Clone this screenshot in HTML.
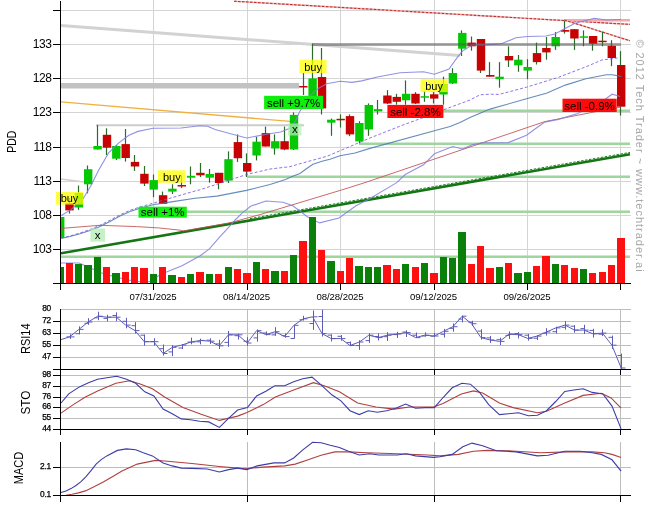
<!DOCTYPE html><html><head><meta charset="utf-8"><style>html,body{margin:0;padding:0;background:#fff;width:657px;height:514px;overflow:hidden}svg{display:block}text{font-family:"Liberation Sans",Arial,sans-serif}</style></head><body>
<svg width="657" height="514" viewBox="0 0 657 514">
<rect width="657" height="514" fill="#fff"/>
<defs><clipPath id="cp"><rect x="61" y="0" width="570" height="283"/></clipPath></defs>
<g stroke="#d4d4d4" stroke-width="1" shape-rendering="crispEdges"><line x1="61" y1="10.5" x2="631" y2="10.5"/><line x1="61" y1="44.5" x2="631" y2="44.5"/><line x1="61" y1="78.5" x2="631" y2="78.5"/><line x1="61" y1="112.5" x2="631" y2="112.5"/><line x1="61" y1="147.5" x2="631" y2="147.5"/><line x1="61" y1="181.5" x2="631" y2="181.5"/><line x1="61" y1="215.5" x2="631" y2="215.5"/><line x1="61" y1="249.5" x2="631" y2="249.5"/><line x1="153.5" y1="0" x2="153.5" y2="283"/><line x1="247.5" y1="0" x2="247.5" y2="283"/><line x1="340.5" y1="0" x2="340.5" y2="283"/><line x1="434.5" y1="0" x2="434.5" y2="283"/><line x1="527.5" y1="0" x2="527.5" y2="283"/><line x1="620.5" y1="0" x2="620.5" y2="283"/></g>
<g clip-path="url(#cp)">
<line x1="61" y1="25.6" x2="460" y2="55.5" stroke="#d2d2d2" stroke-width="3"/>
<line x1="61" y1="179.1" x2="84" y2="181.9" stroke="#d6cccc" stroke-width="1.5"/>
<rect x="61" y="83" width="238" height="5.5" fill="#c2c2c2"/>
<line x1="96" y1="125.3" x2="304" y2="125.3" stroke="#cccccc" stroke-width="2"/>
<line x1="61" y1="101.8" x2="293" y2="121.7" stroke="#f0b040" stroke-width="1.3"/>
<line x1="61.0" y1="256.8" x2="630" y2="256.8" stroke="#9ed69e" stroke-width="2.6"/>
<line x1="186.0" y1="211.8" x2="630" y2="211.8" stroke="#9ed69e" stroke-width="2.6"/>
<line x1="247.6" y1="176.8" x2="630" y2="176.8" stroke="#9ed69e" stroke-width="2.6"/>
<line x1="359.0" y1="143.7" x2="630" y2="143.7" stroke="#9ed69e" stroke-width="2.6"/>
<line x1="443.0" y1="110.8" x2="630" y2="110.8" stroke="#9ed69e" stroke-width="2.6"/>
<line x1="234" y1="1.2" x2="630" y2="24.4" stroke="#f2b8b8" stroke-width="1.6"/>
<line x1="234" y1="1.2" x2="630" y2="24.4" stroke="#c03030" stroke-width="1.1" stroke-dasharray="2.6,1.4"/>
<line x1="564" y1="20.2" x2="630" y2="20.2" stroke="#f4a8a8" stroke-width="2.5"/>
<line x1="564.4" y1="20" x2="630" y2="40.8" stroke="#f2b8b8" stroke-width="1.6"/>
<line x1="564.4" y1="20" x2="630" y2="40.8" stroke="#c03030" stroke-width="1.1" stroke-dasharray="2.6,1.4"/>
<line x1="61" y1="253.3" x2="630" y2="154.3" stroke="#137513" stroke-width="2.6"/>
<line x1="250" y1="218.6" x2="630" y2="152.4" stroke="#1f801f" stroke-width="1" stroke-dasharray="2.5,1.5"/>
</g>
<g clip-path="url(#cp)">
<g stroke="#2a6a2a" stroke-width="1.2"><line x1="59.5" y1="214.0" x2="59.5" y2="240.0"/><line x1="69.5" y1="198.0" x2="69.5" y2="213.6"/><line x1="78.5" y1="185.5" x2="78.5" y2="209.9"/><line x1="87.5" y1="165.5" x2="87.5" y2="193.3"/><line x1="97.5" y1="125.1" x2="97.5" y2="149.5"/><line x1="106.5" y1="128.3" x2="106.5" y2="155.0"/><line x1="116.5" y1="145.0" x2="116.5" y2="160.0"/><line x1="125.5" y1="129.0" x2="125.5" y2="161.6"/><line x1="134.5" y1="155.0" x2="134.5" y2="170.9"/><line x1="144.5" y1="166.0" x2="144.5" y2="186.0"/><line x1="153.5" y1="174.5" x2="153.5" y2="197.2"/><line x1="162.5" y1="191.6" x2="162.5" y2="204.0"/><line x1="172.5" y1="184.3" x2="172.5" y2="194.0"/><line x1="181.5" y1="175.8" x2="181.5" y2="188.0"/><line x1="190.5" y1="166.5" x2="190.5" y2="184.3"/><line x1="200.5" y1="163.0" x2="200.5" y2="177.0"/><line x1="209.5" y1="169.0" x2="209.5" y2="182.6"/><line x1="218.5" y1="172.8" x2="218.5" y2="189.2"/><line x1="228.5" y1="151.4" x2="228.5" y2="183.0"/><line x1="237.5" y1="134.4" x2="237.5" y2="161.9"/><line x1="246.5" y1="153.4" x2="246.5" y2="177.0"/><line x1="256.5" y1="136.8" x2="256.5" y2="160.4"/><line x1="265.5" y1="126.6" x2="265.5" y2="146.5"/><line x1="274.5" y1="134.4" x2="274.5" y2="154.6"/><line x1="284.5" y1="126.6" x2="284.5" y2="150.2"/><line x1="293.5" y1="112.4" x2="293.5" y2="150.0"/><line x1="303.5" y1="73.0" x2="303.5" y2="95.0"/><line x1="312.5" y1="43.8" x2="312.5" y2="105.0"/><line x1="321.5" y1="48.0" x2="321.5" y2="114.5"/><line x1="331.5" y1="118.5" x2="331.5" y2="135.8"/><line x1="340.5" y1="114.4" x2="340.5" y2="127.5"/><line x1="349.5" y1="114.4" x2="349.5" y2="136.2"/><line x1="359.5" y1="121.2" x2="359.5" y2="143.3"/><line x1="368.5" y1="103.4" x2="368.5" y2="135.8"/><line x1="377.5" y1="99.9" x2="377.5" y2="114.5"/><line x1="387.5" y1="90.1" x2="387.5" y2="104.0"/><line x1="396.5" y1="93.8" x2="396.5" y2="104.7"/><line x1="405.5" y1="80.4" x2="405.5" y2="104.7"/><line x1="415.5" y1="92.1" x2="415.5" y2="104.0"/><line x1="424.5" y1="91.3" x2="424.5" y2="101.8"/><line x1="433.5" y1="92.0" x2="433.5" y2="103.5"/><line x1="443.5" y1="76.7" x2="443.5" y2="104.7"/><line x1="452.5" y1="68.2" x2="452.5" y2="84.0"/><line x1="461.5" y1="30.4" x2="461.5" y2="56.0"/><line x1="471.5" y1="36.5" x2="471.5" y2="50.7"/><line x1="480.5" y1="39.0" x2="480.5" y2="73.0"/><line x1="489.5" y1="62.1" x2="489.5" y2="76.7"/><line x1="499.5" y1="62.1" x2="499.5" y2="87.7"/><line x1="508.5" y1="46.3" x2="508.5" y2="67.0"/><line x1="518.5" y1="55.0" x2="518.5" y2="71.8"/><line x1="527.5" y1="59.2" x2="527.5" y2="79.2"/><line x1="536.5" y1="42.6" x2="536.5" y2="64.5"/><line x1="546.5" y1="37.0" x2="546.5" y2="59.7"/><line x1="555.5" y1="32.1" x2="555.5" y2="49.9"/><line x1="564.5" y1="20.7" x2="564.5" y2="33.6"/><line x1="574.5" y1="29.0" x2="574.5" y2="49.9"/><line x1="583.5" y1="30.4" x2="583.5" y2="46.3"/><line x1="592.5" y1="36.0" x2="592.5" y2="50.7"/><line x1="602.5" y1="31.7" x2="602.5" y2="46.3"/><line x1="611.5" y1="40.2" x2="611.5" y2="66.2"/><line x1="620.5" y1="51.1" x2="620.5" y2="115.6"/></g>
<g><rect x="56.0" y="217.0" width="8.4" height="21.0" fill="#05c805"/><rect x="65.3" y="203.2" width="8.4" height="7.2" fill="#c80202"/><rect x="74.7" y="193.0" width="8.4" height="14.5" fill="#05c805"/><rect x="84.0" y="169.2" width="8.4" height="15.1" fill="#05c805"/><rect x="93.4" y="146.0" width="8.4" height="3.5" fill="#05c805"/><rect x="102.8" y="134.8" width="8.4" height="12.9" fill="#c80202"/><rect x="112.1" y="146.0" width="8.4" height="12.7" fill="#05c805"/><rect x="121.5" y="144.1" width="8.4" height="13.9" fill="#c80202"/><rect x="130.8" y="161.9" width="8.4" height="4.6" fill="#c80202"/><rect x="140.2" y="173.8" width="8.4" height="9.8" fill="#c80202"/><rect x="149.5" y="180.1" width="8.4" height="9.5" fill="#05c805"/><rect x="158.9" y="195.2" width="8.4" height="8.6" fill="#c80202"/><rect x="168.2" y="188.7" width="8.4" height="2.9" fill="#05c805"/><rect x="177.6" y="185.0" width="8.4" height="1.5" fill="#c80202"/><rect x="186.9" y="175.8" width="8.4" height="1.9" fill="#05c805"/><rect x="196.2" y="172.8" width="8.4" height="2.5" fill="#c80202"/><rect x="205.6" y="174.0" width="8.4" height="3.7" fill="#05c805"/><rect x="214.9" y="172.8" width="8.4" height="10.2" fill="#c80202"/><rect x="224.3" y="159.2" width="8.4" height="21.4" fill="#05c805"/><rect x="233.7" y="142.1" width="8.4" height="16.1" fill="#c80202"/><rect x="243.0" y="163.0" width="8.4" height="8.6" fill="#c80202"/><rect x="252.4" y="141.7" width="8.4" height="13.8" fill="#05c805"/><rect x="261.7" y="133.1" width="8.4" height="13.4" fill="#c80202"/><rect x="271.1" y="141.2" width="8.4" height="7.3" fill="#05c805"/><rect x="280.4" y="141.2" width="8.4" height="8.3" fill="#c80202"/><rect x="289.8" y="114.9" width="8.4" height="34.6" fill="#05c805"/><rect x="299.1" y="86.0" width="8.4" height="1.5" fill="#c80202"/><rect x="308.4" y="78.4" width="8.4" height="21.6" fill="#05c805"/><rect x="317.8" y="77.0" width="8.4" height="31.4" fill="#c80202"/><rect x="327.1" y="119.7" width="8.4" height="3.0" fill="#05c805"/><rect x="336.5" y="118.8" width="8.4" height="1.5" fill="#c80202"/><rect x="345.8" y="116.1" width="8.4" height="18.3" fill="#c80202"/><rect x="355.2" y="123.0" width="8.4" height="18.4" fill="#05c805"/><rect x="364.6" y="105.0" width="8.4" height="24.5" fill="#05c805"/><rect x="373.9" y="109.1" width="8.4" height="2.4" fill="#05c805"/><rect x="383.2" y="95.5" width="8.4" height="8.0" fill="#c80202"/><rect x="392.6" y="96.9" width="8.4" height="4.9" fill="#c80202"/><rect x="401.9" y="93.8" width="8.4" height="6.5" fill="#05c805"/><rect x="411.3" y="93.8" width="8.4" height="9.7" fill="#c80202"/><rect x="420.6" y="96.2" width="8.4" height="1.5" fill="#05c805"/><rect x="430.0" y="94.3" width="8.4" height="4.3" fill="#c80202"/><rect x="439.3" y="84.0" width="8.4" height="10.5" fill="#05c805"/><rect x="448.7" y="73.0" width="8.4" height="10.5" fill="#05c805"/><rect x="458.1" y="32.9" width="8.4" height="15.8" fill="#05c805"/><rect x="467.4" y="42.6" width="8.4" height="3.7" fill="#c80202"/><rect x="476.8" y="39.0" width="8.4" height="31.6" fill="#c80202"/><rect x="486.1" y="75.0" width="8.4" height="1.7" fill="#c80202"/><rect x="495.4" y="76.7" width="8.4" height="2.5" fill="#05c805"/><rect x="504.8" y="56.0" width="8.4" height="4.4" fill="#c80202"/><rect x="514.1" y="59.7" width="8.4" height="5.6" fill="#05c805"/><rect x="523.5" y="67.0" width="8.4" height="3.6" fill="#05c805"/><rect x="532.8" y="53.1" width="8.4" height="9.0" fill="#c80202"/><rect x="542.2" y="48.0" width="8.4" height="4.4" fill="#c80202"/><rect x="551.5" y="37.0" width="8.4" height="9.3" fill="#05c805"/><rect x="560.9" y="30.0" width="8.4" height="1.7" fill="#c80202"/><rect x="570.2" y="29.2" width="8.4" height="9.3" fill="#c80202"/><rect x="579.6" y="36.3" width="8.4" height="1.5" fill="#05c805"/><rect x="588.9" y="36.0" width="8.4" height="7.8" fill="#c80202"/><rect x="598.3" y="40.7" width="8.4" height="1.5" fill="#c80202"/><rect x="607.6" y="45.8" width="8.4" height="12.2" fill="#c80202"/><rect x="617.0" y="65.0" width="8.4" height="41.7" fill="#c80202"/></g>
</g>
<g clip-path="url(#cp)" fill="none" stroke-opacity="0.85"><polyline points="61.0,228.4 100.0,225.3 136.5,226.6 158.4,227.9 180.4,230.2 183.0,231.0 229.0,223.0 260.0,214.6 341.5,190.0 365.0,182.6 525.0,128.3 544.8,121.6 597.3,111.4 621.0,107.0" stroke="#c05050" stroke-width="1"/><polyline points="61.0,238.5 70.0,236.5 80.0,233.8 90.0,230.5 100.0,226.5 110.0,221.5 120.0,216.0 130.0,211.5 140.0,208.2 153.0,204.8 173.0,201.6 195.0,198.3 216.9,196.1 246.5,190.4 270.0,184.5 285.5,179.4 292.0,176.5 300.0,173.4 306.0,169.0 313.0,164.3 322.0,161.3 330.0,159.3 340.0,155.8 355.0,153.0 370.0,148.4 434.4,130.7 450.0,126.5 460.0,122.4 470.0,117.4 480.0,113.3 490.0,109.1 526.5,98.8 547.1,93.1 565.3,85.1 585.9,78.7 606.4,74.8 612.1,74.8 621.3,76.4" stroke="#4a78b0" stroke-width="1.1"/><polyline points="61.0,238.0 70.0,236.0 80.0,233.0 90.0,229.5 100.0,225.3 110.0,220.3 120.0,214.8 130.0,210.3 140.0,207.0 153.0,203.2 173.0,197.4 195.0,191.0 200.0,189.8 220.0,183.2 247.0,174.4 270.0,169.0 290.0,166.7 300.0,163.7 326.9,156.3 370.0,138.0 404.0,124.6 423.5,117.5 444.0,109.6 460.0,103.7 470.0,100.0 480.0,94.8 490.0,94.2 499.1,94.4 526.5,87.2 558.5,77.3 585.9,66.8 601.9,60.0 617.6,58.0" stroke="#7a5ae0" stroke-width="1" stroke-dasharray="3,2"/><polyline points="61.0,215.7 70.7,209.9 83.3,198.5 90.9,185.8 98.5,170.6 108.6,152.9 118.8,142.8 128.9,135.2 138.0,131.4 153.0,128.3 181.0,128.0 200.0,125.8 207.6,126.3 215.0,129.5 246.5,138.0 268.0,134.0 280.6,132.0 292.8,127.0 299.5,112.0 309.2,96.4 318.0,88.6 326.7,83.8 340.3,81.2 352.0,82.4 361.7,80.9 377.3,77.0 400.0,72.7 423.5,71.8 434.4,74.3 449.0,69.0 457.5,57.2 462.4,51.1 472.2,45.0 486.8,44.6 501.4,43.8 516.0,37.7 527.4,36.5 545.7,36.0 555.0,34.0 565.0,28.6 575.0,23.2 594.4,18.3 606.6,20.0 618.8,19.5 621.0,19.5" stroke="#7f7fe0" stroke-width="1.1"/><polyline points="61.0,263.0 79.0,263.0 104.0,274.0 128.0,280.0 145.0,282.6 152.0,281.0 157.6,276.3 165.2,272.5 182.0,265.7 200.2,255.8 209.4,248.9 220.0,236.7 229.1,226.8 235.2,220.0 242.3,212.9 251.0,206.1 266.0,201.0 283.0,202.2 292.8,205.8 307.4,216.8 319.6,222.9 339.0,218.0 356.0,205.8 370.0,198.5 396.7,182.6 405.2,174.5 423.5,164.8 434.4,153.8 452.7,146.5 462.4,149.0 472.2,144.8 481.9,142.9 508.3,142.6 526.5,135.3 535.7,128.5 544.8,122.1 558.5,119.4 576.8,113.7 592.7,106.8 604.2,100.0 612.1,94.2 620.1,96.5" stroke="#7f7fe0" stroke-width="1.1"/></g><line x1="312" y1="44.5" x2="621" y2="44.5" stroke="#555" stroke-opacity="0.5" stroke-width="3" clip-path="url(#cp)"/>
<g clip-path="url(#cp)" shape-rendering="crispEdges"><rect x="56.2" y="267.4" width="7.3" height="15.6" fill="#0a800a"/><rect x="65.5" y="263.0" width="7.3" height="20.0" fill="#ff1010"/><rect x="74.9" y="263.8" width="7.3" height="19.2" fill="#0a800a"/><rect x="84.2" y="265.0" width="7.3" height="18.0" fill="#0a800a"/><rect x="93.6" y="257.0" width="7.3" height="26.0" fill="#0a800a"/><rect x="103.0" y="267.2" width="7.3" height="15.8" fill="#ff1010"/><rect x="112.3" y="273.3" width="7.3" height="9.7" fill="#0a800a"/><rect x="121.7" y="272.0" width="7.3" height="11.0" fill="#ff1010"/><rect x="131.0" y="267.2" width="7.3" height="15.8" fill="#ff1010"/><rect x="140.3" y="268.0" width="7.3" height="15.0" fill="#ff1010"/><rect x="149.7" y="274.0" width="7.3" height="9.0" fill="#0a800a"/><rect x="159.1" y="267.2" width="7.3" height="15.8" fill="#ff1010"/><rect x="168.4" y="275.0" width="7.3" height="8.0" fill="#0a800a"/><rect x="177.8" y="277.0" width="7.3" height="6.0" fill="#ff1010"/><rect x="187.1" y="274.3" width="7.3" height="8.7" fill="#0a800a"/><rect x="196.4" y="272.0" width="7.3" height="11.0" fill="#ff1010"/><rect x="205.8" y="274.0" width="7.3" height="9.0" fill="#0a800a"/><rect x="215.1" y="274.0" width="7.3" height="9.0" fill="#ff1010"/><rect x="224.5" y="267.2" width="7.3" height="15.8" fill="#0a800a"/><rect x="233.9" y="269.2" width="7.3" height="13.8" fill="#ff1010"/><rect x="243.2" y="273.3" width="7.3" height="9.7" fill="#ff1010"/><rect x="252.6" y="262.1" width="7.3" height="20.9" fill="#0a800a"/><rect x="261.9" y="269.2" width="7.3" height="13.8" fill="#ff1010"/><rect x="271.2" y="271.1" width="7.3" height="11.9" fill="#0a800a"/><rect x="280.6" y="271.1" width="7.3" height="11.9" fill="#ff1010"/><rect x="289.9" y="255.0" width="7.3" height="28.0" fill="#0a800a"/><rect x="299.3" y="241.1" width="7.3" height="41.9" fill="#ff1010"/><rect x="308.6" y="216.8" width="7.3" height="66.2" fill="#0a800a"/><rect x="318.0" y="249.9" width="7.3" height="33.1" fill="#ff1010"/><rect x="327.3" y="261.1" width="7.3" height="21.9" fill="#0a800a"/><rect x="336.7" y="271.1" width="7.3" height="11.9" fill="#ff1010"/><rect x="346.0" y="258.2" width="7.3" height="24.8" fill="#ff1010"/><rect x="355.4" y="266.2" width="7.3" height="16.8" fill="#0a800a"/><rect x="364.8" y="267.2" width="7.3" height="15.8" fill="#0a800a"/><rect x="374.1" y="267.2" width="7.3" height="15.8" fill="#0a800a"/><rect x="383.4" y="265.0" width="7.3" height="18.0" fill="#ff1010"/><rect x="392.8" y="269.2" width="7.3" height="13.8" fill="#ff1010"/><rect x="402.1" y="264.0" width="7.3" height="19.0" fill="#0a800a"/><rect x="411.5" y="267.2" width="7.3" height="15.8" fill="#ff1010"/><rect x="420.8" y="263.0" width="7.3" height="20.0" fill="#0a800a"/><rect x="430.2" y="273.3" width="7.3" height="9.7" fill="#ff1010"/><rect x="439.5" y="257.0" width="7.3" height="26.0" fill="#0a800a"/><rect x="448.9" y="258.0" width="7.3" height="25.0" fill="#0a800a"/><rect x="458.2" y="231.9" width="7.3" height="51.1" fill="#0a800a"/><rect x="467.6" y="264.0" width="7.3" height="19.0" fill="#ff1010"/><rect x="476.9" y="246.0" width="7.3" height="37.0" fill="#ff1010"/><rect x="486.3" y="268.0" width="7.3" height="15.0" fill="#ff1010"/><rect x="495.6" y="267.2" width="7.3" height="15.8" fill="#0a800a"/><rect x="505.0" y="263.0" width="7.3" height="20.0" fill="#ff1010"/><rect x="514.4" y="273.1" width="7.3" height="9.9" fill="#0a800a"/><rect x="523.7" y="272.0" width="7.3" height="11.0" fill="#0a800a"/><rect x="533.0" y="266.1" width="7.3" height="16.9" fill="#ff1010"/><rect x="542.4" y="255.8" width="7.3" height="27.2" fill="#ff1010"/><rect x="551.8" y="263.9" width="7.3" height="19.1" fill="#0a800a"/><rect x="561.1" y="265.0" width="7.3" height="18.0" fill="#ff1010"/><rect x="570.5" y="267.8" width="7.3" height="15.2" fill="#ff1010"/><rect x="579.8" y="268.8" width="7.3" height="14.2" fill="#0a800a"/><rect x="589.1" y="272.9" width="7.3" height="10.1" fill="#ff1010"/><rect x="598.5" y="272.0" width="7.3" height="11.0" fill="#ff1010"/><rect x="607.9" y="265.0" width="7.3" height="18.0" fill="#ff1010"/><rect x="617.2" y="237.9" width="7.3" height="45.1" fill="#ff1010"/></g>
<rect x="56.0" y="192.0" width="27.0" height="12.6" fill="#ffff00" fill-opacity="0.75"/>
<text x="69.5" y="202.4" font-size="11.0" text-anchor="middle" fill="#000">buy</text>
<rect x="158.0" y="170.3" width="27.6" height="12.5" fill="#ffff00" fill-opacity="0.75"/>
<text x="171.8" y="180.6" font-size="11.0" text-anchor="middle" fill="#000">buy</text>
<rect x="299.5" y="59.7" width="27.1" height="13.5" fill="#ffff00" fill-opacity="0.75"/>
<text x="313.1" y="71.0" font-size="11.0" text-anchor="middle" fill="#000">buy</text>
<rect x="420.5" y="79.2" width="27.3" height="12.9" fill="#ffff00" fill-opacity="0.75"/>
<text x="434.1" y="89.9" font-size="11.0" text-anchor="middle" fill="#000">buy</text>
<rect x="138.5" y="206.7" width="48.3" height="11.0" fill="#10ee10" fill-opacity="1.00"/>
<text x="162.7" y="215.5" font-size="11.5" text-anchor="middle" fill="#000">sell +1%</text>
<rect x="264.1" y="95.8" width="59.1" height="13.2" fill="#10ee10" fill-opacity="1.00"/>
<text x="293.6" y="106.8" font-size="11.5" text-anchor="middle" fill="#000">sell +9.7%</text>
<rect x="387.4" y="104.9" width="56.0" height="13.1" fill="#ff0a0a" fill-opacity="1.00"/>
<text x="415.4" y="115.8" font-size="11.5" text-anchor="middle" fill="#000">sell -2.8%</text>
<rect x="562.5" y="98.7" width="54.2" height="13.3" fill="#ff0a0a" fill-opacity="1.00"/>
<text x="589.6" y="109.8" font-size="11.5" text-anchor="middle" fill="#000">sell -0.9%</text>
<rect x="90.4" y="228.5" width="14.6" height="13.1" fill="#b8eeb8" fill-opacity="0.80"/>
<text x="97.7" y="239.4" font-size="11.5" text-anchor="middle" fill="#000">x</text>
<rect x="288.0" y="123.5" width="13.5" height="12.0" fill="#b8eeb8" fill-opacity="0.70"/>
<text x="294.8" y="133.3" font-size="11.5" text-anchor="middle" fill="#000">x</text>
<g stroke="#000" stroke-width="1" shape-rendering="crispEdges">
<line x1="60.5" y1="1" x2="60.5" y2="290"/>
<line x1="53" y1="283.5" x2="631" y2="283.5"/>
<line x1="53" y1="10.5" x2="60" y2="10.5"/>
<line x1="53" y1="44.5" x2="60" y2="44.5"/>
<line x1="53" y1="78.5" x2="60" y2="78.5"/>
<line x1="53" y1="112.5" x2="60" y2="112.5"/>
<line x1="53" y1="147.5" x2="60" y2="147.5"/>
<line x1="53" y1="181.5" x2="60" y2="181.5"/>
<line x1="53" y1="215.5" x2="60" y2="215.5"/>
<line x1="53" y1="249.5" x2="60" y2="249.5"/>
<line x1="153.5" y1="283" x2="153.5" y2="290"/>
<line x1="247.5" y1="283" x2="247.5" y2="290"/>
<line x1="340.5" y1="283" x2="340.5" y2="290"/>
<line x1="434.5" y1="283" x2="434.5" y2="290"/>
<line x1="527.5" y1="283" x2="527.5" y2="290"/>
<line x1="620.5" y1="283" x2="620.5" y2="290"/>
</g>
<g font-size="12" fill="#000" text-anchor="end" letter-spacing="-0.4">
<text x="51.5" y="48.2">133</text>
<text x="51.5" y="82.2">128</text>
<text x="51.5" y="116.2">123</text>
<text x="51.5" y="151.2">118</text>
<text x="51.5" y="185.2">113</text>
<text x="51.5" y="219.2">108</text>
<text x="51.5" y="253.2">103</text>
</g>
<g font-size="9.6" fill="#000" text-anchor="middle" letter-spacing="-0.1">
<text x="153.1" y="300">07/31/2025</text>
<text x="246.6" y="300">08/14/2025</text>
<text x="340.1" y="300">08/28/2025</text>
<text x="433.6" y="300">09/12/2025</text>
<text x="527.1" y="300">09/26/2025</text>
</g>
<text transform="translate(15.6,141.7) rotate(-90) scale(0.88,1)" font-size="12" text-anchor="middle" fill="#000">PDD</text>
<text transform="translate(29.8,338.7) rotate(-90) scale(0.92,1)" font-size="12" text-anchor="middle" fill="#000">RSI14</text>
<text transform="translate(29.6,402.6) rotate(-90) scale(0.98,1)" font-size="12" text-anchor="middle" fill="#000">STO</text>
<text transform="translate(23.2,468.0) rotate(-90) scale(0.92,1)" font-size="12" text-anchor="middle" fill="#000">MACD</text>
<text transform="translate(636,39.4) rotate(90)" font-size="11" fill="#a8a8a8" letter-spacing="0.98">© 2012 Tech Trader ~ www.techtrader.ai</text>
<g stroke="#bdbdbd" stroke-width="1" shape-rendering="crispEdges"><line x1="61" y1="309.5" x2="631" y2="309.5"/><line x1="61" y1="321.5" x2="631" y2="321.5"/><line x1="61" y1="333.5" x2="631" y2="333.5"/><line x1="61" y1="345.5" x2="631" y2="345.5"/><line x1="61" y1="357.5" x2="631" y2="357.5"/><line x1="61" y1="375.5" x2="631" y2="375.5"/><line x1="61" y1="386.5" x2="631" y2="386.5"/><line x1="61" y1="397.5" x2="631" y2="397.5"/><line x1="61" y1="407.5" x2="631" y2="407.5"/><line x1="61" y1="418.5" x2="631" y2="418.5"/><line x1="61" y1="467.5" x2="631" y2="467.5"/><line x1="247.5" y1="309.0" x2="247.5" y2="369.0"/><line x1="434.5" y1="309.0" x2="434.5" y2="369.0"/><line x1="620.5" y1="309.0" x2="620.5" y2="369.0"/><line x1="247.5" y1="369.0" x2="247.5" y2="429.0"/><line x1="434.5" y1="369.0" x2="434.5" y2="429.0"/><line x1="620.5" y1="369.0" x2="620.5" y2="429.0"/><line x1="247.5" y1="442.0" x2="247.5" y2="495.0"/><line x1="434.5" y1="442.0" x2="434.5" y2="495.0"/><line x1="620.5" y1="442.0" x2="620.5" y2="495.0"/></g>
<g fill="none" stroke="#5c5cb8" stroke-width="1"><polyline points="61.0,339.6 69.5,336.9 78.9,329.4 88.2,322.0 97.6,316.2 107.0,317.2 116.3,317.2 125.7,325.1 135.0,330.6 144.3,341.7 153.7,341.7 163.1,353.5 172.4,347.3 181.8,345.0 191.1,342.0 200.4,340.4 209.8,341.2 219.1,345.8 228.5,334.8 237.9,334.8 247.2,343.0 256.6,330.7 265.9,334.6 275.2,331.7 284.6,336.6 293.9,325.3 303.3,318.8 312.6,316.8 322.0,333.6 331.3,338.6 340.7,338.6 350.0,345.5 359.4,342.0 368.8,335.2 378.1,337.6 387.4,335.2 396.8,334.0 406.1,332.6 415.5,337.6 424.8,335.2 434.2,336.0 443.5,331.3 452.9,326.7 462.2,316.2 471.6,323.7 480.9,337.6 490.3,340.0 499.6,341.4 509.0,334.2 518.4,334.7 527.7,338.4 537.0,336.1 546.4,332.0 555.8,327.9 565.1,325.1 574.5,330.1 583.8,330.1 593.1,333.8 602.5,333.1 611.9,345.2 621.2,368.0"/><path d="M70.5 334.2V338.9M66.5 336.9H70.5M70.5 336.9H74.5M79.5 326.4V334.4M75.5 333.7H79.5M79.5 329.4H83.5M88.5 318.2V324.8M84.5 323.3H88.5M88.5 322.0H92.5M98.5 311.7V320.2M94.5 317.8H98.5M98.5 316.2H102.5M107.5 314.8V321.4M103.5 318.4H107.5M107.5 317.2H111.5M116.5 312.4V321.2M112.5 315.5H116.5M116.5 317.2H120.5M126.5 317.8V328.3M122.5 321.3H126.5M126.5 325.1H130.5M135.5 322.1V333.5M131.5 325.7H135.5M135.5 330.6H139.5M144.5 334.5V345.7M140.5 335.2H144.5M144.5 341.7H148.5M154.5 338.2V345.7M150.5 341.6H154.5M154.5 341.7H158.5M163.5 344.5V355.6M159.5 348.7H163.5M163.5 353.5H167.5M172.5 345.0V356.1M168.5 351.9H172.5M172.5 347.3H176.5M182.5 344.1V349.1M178.5 348.0H182.5M182.5 345.0H186.5M191.5 337.6V344.3M187.5 342.1H191.5M191.5 342.0H195.5M200.5 338.7V344.4M196.5 341.8H200.5M200.5 340.4H204.5M210.5 338.3V344.0M206.5 340.2H210.5M210.5 341.2H214.5M219.5 339.8V349.0M215.5 343.9H219.5M219.5 345.8H223.5M228.5 330.9V346.9M224.5 342.4H228.5M228.5 334.8H232.5M238.5 333.6V339.6M234.5 335.7H238.5M238.5 334.8H242.5M247.5 337.1V345.8M243.5 341.2H247.5M247.5 343.0H251.5M257.5 329.4V341.7M253.5 337.9H257.5M257.5 330.7H261.5M266.5 331.4V335.4M262.5 333.0H266.5M266.5 334.6H270.5M275.5 327.2V335.8M271.5 334.9H275.5M275.5 331.7H279.5M285.5 333.5V337.7M281.5 335.7H285.5M285.5 336.6H289.5M294.5 325.2V338.5M290.5 338.5H294.5M294.5 325.3H298.5M303.5 315.8V320.5M299.5 319.8H303.5M303.5 318.8H307.5M313.5 310.5V329.9M309.5 323.5H313.5M313.5 316.8H317.5M322.5 309.7V336.5M318.5 316.5H322.5M322.5 333.6H326.5M331.5 334.3V341.5M327.5 335.1H331.5M331.5 338.6H335.5M341.5 335.0V340.7M337.5 336.3H341.5M341.5 338.6H345.5M350.5 341.5V346.2M346.5 342.6H350.5M350.5 345.5H354.5M359.5 340.2V349.9M355.5 345.6H359.5M359.5 342.0H363.5M369.5 333.2V342.9M365.5 340.6H369.5M369.5 335.2H373.5M378.5 333.4V340.5M374.5 336.5H378.5M378.5 337.6H382.5M387.5 332.2V341.0M383.5 336.7H387.5M387.5 335.2H391.5M397.5 331.8V338.0M393.5 334.6H397.5M397.5 334.0H401.5M406.5 330.3V337.0M402.5 332.0H406.5M406.5 332.6H410.5M416.5 332.5V338.1M412.5 335.2H416.5M416.5 337.6H420.5M425.5 332.4V336.6M421.5 336.0H425.5M425.5 335.2H429.5M434.5 333.0V336.9M430.5 336.2H434.5M434.5 336.0H438.5M444.5 328.9V337.5M440.5 334.3H444.5M444.5 331.3H448.5M453.5 323.4V331.7M449.5 328.3H453.5M453.5 326.7H457.5M462.5 315.5V322.3M458.5 319.1H462.5M462.5 316.2H466.5M472.5 320.8V326.0M468.5 322.3H472.5M472.5 323.7H476.5M481.5 329.3V339.6M477.5 331.1H481.5M481.5 337.6H485.5M490.5 335.9V342.9M486.5 337.9H490.5M490.5 340.0H494.5M500.5 337.7V345.0M496.5 339.7H500.5M500.5 341.4H504.5M509.5 331.4V338.9M505.5 335.4H509.5M509.5 334.2H513.5M518.5 332.1V338.4M514.5 333.5H518.5M518.5 334.7H522.5M528.5 334.0V340.6M524.5 335.2H528.5M528.5 338.4H532.5M537.5 335.2V340.0M533.5 338.2H537.5M537.5 336.1H541.5M546.5 328.2V335.5M542.5 333.2H546.5M546.5 332.0H550.5M556.5 326.7V333.6M552.5 331.7H556.5M556.5 327.9H560.5M565.5 321.1V329.6M561.5 327.3H565.5M565.5 325.1H569.5M574.5 325.2V332.7M570.5 326.2H574.5M574.5 330.1H578.5M584.5 324.8V334.0M580.5 328.6H584.5M584.5 330.1H588.5M593.5 328.8V337.5M589.5 330.4H593.5M593.5 333.8H597.5M602.5 329.4V336.0M598.5 334.2H602.5M602.5 333.1H606.5M612.5 335.6V348.9M608.5 337.3H612.5M612.5 345.2H616.5M621.5 353.6V369.0M617.5 355.5H621.5M621.5 368.0H625.5"/></g>
<g fill="none" stroke-width="1.1"><polyline points="61.0,413.1 73.3,404.6 85.4,397.0 97.6,390.9 115.9,383.3 129.6,380.8 140.2,383.9 152.4,388.7 164.6,397.0 182.9,407.6 201.1,414.3 219.4,420.4 237.6,416.1 247.0,412.5 263.3,404.6 275.4,397.0 293.7,390.0 313.5,382.7 324.1,385.7 339.4,391.8 357.6,403.0 375.9,407.0 394.2,409.1 409.4,407.0 433.7,407.0 443.0,403.5 461.3,393.9 473.5,390.9 482.6,393.0 499.4,403.0 513.1,407.6 537.4,412.8 546.5,411.3 564.8,403.0 583.1,395.4 601.3,393.3 611.1,397.9 621.1,408.2" stroke="#b04040"/><polyline points="61.0,403.0 68.7,393.9 79.4,386.9 88.5,382.7 97.6,379.3 106.8,377.8 116.8,376.3 126.5,379.3 135.7,383.3 144.8,391.8 153.9,396.0 163.1,409.1 172.2,413.7 181.3,418.9 190.5,419.8 199.6,421.3 208.7,421.9 219.4,427.4 228.5,418.3 237.6,410.0 247.4,407.6 256.6,396.0 266.3,390.9 274.8,385.7 284.6,385.7 293.7,381.7 302.8,378.7 312.0,377.2 321.1,384.8 331.8,394.8 340.9,400.9 350.0,410.7 359.2,414.6 368.3,410.7 377.4,412.2 386.6,410.7 395.7,408.2 405.7,404.0 415.5,408.2 425.2,407.6 434.3,407.6 443.5,397.0 452.2,387.8 461.9,383.3 470.4,384.2 479.6,392.4 488.7,404.6 499.4,414.6 508.5,413.7 518.5,412.8 528.3,415.8 537.4,415.2 546.5,410.7 555.7,401.5 564.8,391.5 573.9,390.0 583.1,388.7 592.2,392.4 602.9,393.9 612.0,406.1 621.1,428.9" stroke="#3c3ca8"/></g>
<g fill="none" stroke-width="1.1"><polyline points="66.0,495.3 72.0,494.3 78.5,492.9 85.4,490.9 94.5,486.6 103.7,481.8 112.8,476.5 122.0,471.1 137.2,464.1 155.5,460.4 164.6,461.0 192.0,463.5 219.4,466.5 237.6,468.1 245.0,468.7 263.3,467.1 284.6,465.9 295.2,464.1 308.9,459.5 321.1,455.3 334.8,451.9 348.5,451.9 366.8,452.8 397.2,453.7 427.6,455.0 440.0,455.9 458.3,454.4 473.5,451.3 487.2,450.4 507.0,450.7 540.5,452.8 567.9,451.9 592.2,451.9 604.4,452.8 612.0,454.4 621.1,457.4" stroke="#b04040"/><polyline points="61.0,492.6 66.0,491.0 71.0,488.6 76.0,485.5 81.0,481.6 86.0,476.6 91.0,470.6 96.1,464.1 101.5,459.4 106.8,455.9 117.4,450.4 126.5,448.9 135.7,449.8 143.3,452.8 152.4,455.9 163.1,462.9 172.2,465.9 181.3,468.1 192.0,468.4 207.2,469.0 219.4,472.0 228.5,469.6 237.6,468.1 246.8,469.6 257.2,465.9 273.9,462.9 284.6,462.9 293.7,458.0 302.8,449.8 312.6,442.2 321.1,442.8 330.2,445.2 339.4,447.4 348.5,451.3 359.2,455.0 369.8,453.7 378.9,455.0 397.2,455.0 406.3,453.7 415.5,455.9 433.7,457.4 440.0,456.8 452.2,454.4 462.8,446.7 472.0,443.1 482.6,445.8 496.3,450.7 516.1,451.9 537.4,455.9 548.1,455.3 564.8,451.3 580.0,451.3 592.2,452.8 601.3,454.4 612.0,459.8 621.1,471.1" stroke="#3c3ca8"/></g>
<g stroke="#000" stroke-width="1" shape-rendering="crispEdges"><line x1="60.5" y1="309" x2="60.5" y2="435"/><line x1="53" y1="369.5" x2="631" y2="369.5"/><line x1="53" y1="429.5" x2="631" y2="429.5"/><line x1="60.5" y1="442" x2="60.5" y2="502"/><line x1="53" y1="495.5" x2="631" y2="495.5"/><line x1="53" y1="321.5" x2="60" y2="321.5"/><line x1="53" y1="333.5" x2="60" y2="333.5"/><line x1="53" y1="345.5" x2="60" y2="345.5"/><line x1="53" y1="357.5" x2="60" y2="357.5"/><line x1="53" y1="375.5" x2="60" y2="375.5"/><line x1="53" y1="386.5" x2="60" y2="386.5"/><line x1="53" y1="397.5" x2="60" y2="397.5"/><line x1="53" y1="407.5" x2="60" y2="407.5"/><line x1="53" y1="418.5" x2="60" y2="418.5"/><line x1="53" y1="467.5" x2="60" y2="467.5"/><line x1="247.5" y1="369" x2="247.5" y2="375"/><line x1="247.5" y1="429" x2="247.5" y2="435"/><line x1="247.5" y1="495" x2="247.5" y2="502"/><line x1="434.5" y1="369" x2="434.5" y2="375"/><line x1="434.5" y1="429" x2="434.5" y2="435"/><line x1="434.5" y1="495" x2="434.5" y2="502"/><line x1="620.5" y1="369" x2="620.5" y2="375"/><line x1="620.5" y1="429" x2="620.5" y2="435"/><line x1="620.5" y1="495" x2="620.5" y2="502"/></g>
<g font-size="8.4" fill="#000" stroke="#000" stroke-width="0.25" text-anchor="end" letter-spacing="-0.25"><text x="51" y="311.3">80</text><text x="51" y="323.3">72</text><text x="51" y="335.3">63</text><text x="51" y="347.3">55</text><text x="51" y="359.3">47</text><text x="51" y="377.3">98</text><text x="51" y="388.3">87</text><text x="51" y="399.3">76</text><text x="51" y="409.3">66</text><text x="51" y="420.3">55</text><text x="51" y="431.3">44</text><text x="51" y="469.3">2.1</text><text x="51" y="497.3">0.1</text></g>
</svg></body></html>
